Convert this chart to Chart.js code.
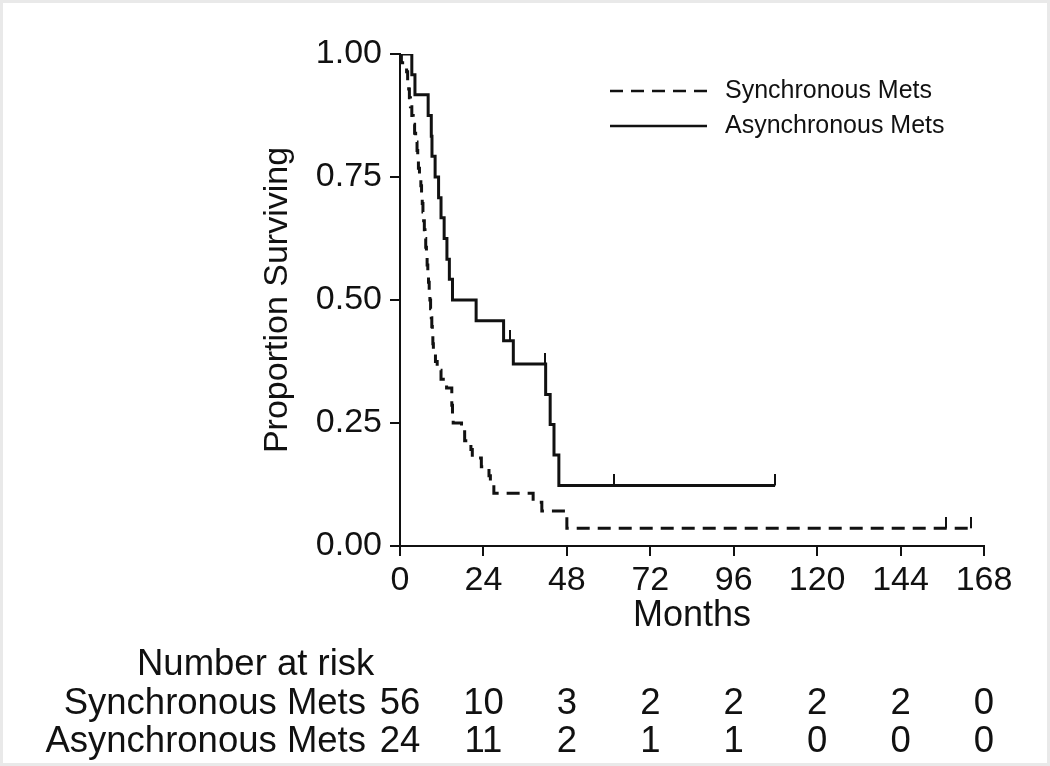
<!DOCTYPE html>
<html><head><meta charset="utf-8">
<script src="https://cdn.jsdelivr.net/npm/chart.js@4.4.1/dist/chart.umd.min.js"></script>
<style>html,body{margin:0;padding:0;background:#fff;overflow:hidden}#wrap{width:1050px;height:766px;position:relative}</style>
</head><body><div id="wrap"><canvas id="c" width="1050" height="766"></canvas></div>
<script>
// Kaplan-Meier step data (time in months, proportion surviving after the drop)
const seriesNames = ['Synchronous Mets', 'Asynchronous Mets'];
const syncTimes = [0, 0.4, 1.9, 2.2, 2.5, 2.7, 3.0, 3.4, 3.8, 4.2, 4.5, 4.9, 5.1, 5.3, 5.6, 6.0, 6.2, 6.4, 6.6, 6.8, 7.0, 7.2, 7.4, 7.6, 7.8, 8.0, 8.2, 8.4, 8.6, 8.8, 9.0, 9.15, 9.3, 9.45, 9.6, 10.2, 10.7, 11.8, 13.4, 14.9, 15.1, 15.3, 17.7, 18.6, 20.4, 20.8, 23.4, 25.6, 26.0, 27.0, 38.3, 40.8, 48.0, 164.3];
const syncSurv = [1, 0.982, 0.964, 0.946, 0.929, 0.911, 0.893, 0.875, 0.857, 0.839, 0.821, 0.804, 0.786, 0.768, 0.75, 0.732, 0.714, 0.696, 0.679, 0.661, 0.643, 0.625, 0.607, 0.589, 0.571, 0.554, 0.536, 0.518, 0.5, 0.482, 0.464, 0.446, 0.429, 0.411, 0.393, 0.375, 0.357, 0.339, 0.321, 0.286, 0.268, 0.25, 0.232, 0.214, 0.196, 0.179, 0.161, 0.143, 0.125, 0.107, 0.089, 0.071, 0.036, 0.036];
const asyncTimes = [0, 3.4, 4.3, 8.1, 9.0, 9.2, 10.1, 11.1, 11.8, 12.7, 13.5, 14.2, 15.1, 21.9, 29.8, 32.6, 41.9, 43.2, 44.3, 45.7, 107.9];
const asyncSurv = [1, 0.958, 0.917, 0.875, 0.833, 0.792, 0.75, 0.708, 0.667, 0.625, 0.583, 0.542, 0.5, 0.458, 0.417, 0.370, 0.308, 0.247, 0.185, 0.123, 0.123];
// censoring marks
const syncCensorTimes = [157.0, 164.3];
const syncCensorSurv = [0.036, 0.036];
const asyncCensorTimes = [31.6, 41.6, 61.6, 107.9];
const asyncCensorSurv = [0.417, 0.370, 0.123, 0.123];
// axes
const xTicks = [0, 24, 48, 72, 96, 120, 144, 168];
const yTicks = [0, 0.25, 0.5, 0.75, 1];
// number at risk
const riskTitle = 'Number at risk';
const riskSync = [56, 10, 3, 2, 2, 2, 2, 0];
const riskAsync = [24, 11, 2, 1, 1, 0, 0, 0];

const INK = '#111';
const FONT = '"Liberation Sans", Arial, Helvetica, sans-serif';

function pts(ts, ss) { return ts.map((t, i) => ({x: t, y: ss[i]})); }

// censor mark: short vertical stroke above the point
const censorMark = document.createElement('canvas');
censorMark.width = 2; censorMark.height = 22;
(function(){ const g = censorMark.getContext('2d'); g.fillStyle = INK; g.fillRect(0, 0, 2, 11); })();

const overlay = {
  id: 'overlay',
  beforeDraw(chart) {
    const ctx = chart.ctx;
    ctx.save();
    ctx.fillStyle = '#fff';
    ctx.fillRect(0, 0, chart.width, chart.height);
    ctx.strokeStyle = '#e9e9e9';
    ctx.lineWidth = 4;
    ctx.strokeRect(1, 1, chart.width - 2, chart.height - 2);
    ctx.restore();
  },
  afterDraw(chart) {
    const ctx = chart.ctx;
    const xs = chart.scales.x;
    ctx.save();
    // legend
    ctx.font = '25px ' + FONT;
    ctx.fillStyle = INK;
    ctx.textBaseline = 'middle';
    ctx.textAlign = 'left';
    const legY = [91, 126];
    [0, 1].forEach(i => {
      const ds = chart.data.datasets[i];
      ctx.strokeStyle = INK;
      ctx.lineWidth = 2.5;
      ctx.setLineDash(ds.borderDash || []);
      ctx.beginPath();
      ctx.moveTo(610, legY[i]);
      ctx.lineTo(707, legY[i]);
      ctx.stroke();
      ctx.setLineDash([]);
      ctx.fillText(ds.label, 725, legY[i]);
    });
    // number-at-risk table
    ctx.font = '36.5px ' + FONT;
    ctx.textAlign = 'left';
    ctx.fillText(riskTitle, 137, 665);
    const rows = [[seriesNames[0], riskSync, 704], [seriesNames[1], riskAsync, 742]];
    rows.forEach(([name, vals, y]) => {
      ctx.textAlign = 'right';
      ctx.fillText(name, 366, y);
      ctx.textAlign = 'center';
      vals.forEach((v, i) => ctx.fillText(String(v), xs.getPixelForValue(xTicks[i]), y));
    });
    ctx.restore();
  }
};

new Chart(document.getElementById('c'), {
  type: 'line',
  data: {
    datasets: [
      {label: seriesNames[0], data: pts(syncTimes, syncSurv), stepped: 'before', borderColor: INK, borderWidth: 3, borderDash: [13, 8], pointRadius: 0, fill: false},
      {label: seriesNames[1], data: pts(asyncTimes, asyncSurv), stepped: 'before', borderColor: INK, borderWidth: 3, pointRadius: 0, fill: false},
      {label: 'censor1', data: pts(syncCensorTimes, syncCensorSurv), showLine: false, pointStyle: censorMark, pointRadius: 6},
      {label: 'censor2', data: pts(asyncCensorTimes, asyncCensorSurv), showLine: false, pointStyle: censorMark, pointRadius: 6}
    ]
  },
  options: {
    responsive: false,
    animation: false,
    devicePixelRatio: 1,
    layout: {padding: {left: 240, right: 66, top: 54, bottom: 120}},
    plugins: {legend: {display: false}, tooltip: {enabled: false}},
    scales: {
      x: {
        type: 'linear', min: 0, max: 168,
        afterBuildTicks: s => { s.ticks = xTicks.map(v => ({value: v})); },
        afterFit: s => { s.height = 100; s.paddingLeft = 0; s.paddingRight = 0; },
        grid: {drawOnChartArea: false, drawTicks: true, tickLength: 10, color: INK, lineWidth: 2},
        border: {display: true, color: INK, width: 2},
        ticks: {color: INK, font: {family: FONT, size: 34}, padding: 4, maxRotation: 0, autoSkip: false},
        title: {display: true, text: 'Months', color: INK, font: {family: FONT, size: 36}, padding: {top: 0, bottom: 8}}
      },
      y: {
        type: 'linear', min: 0, max: 1,
        afterBuildTicks: s => { s.ticks = yTicks.map(v => ({value: v})); },
        afterFit: s => { s.width = 160; s.paddingTop = 0; s.paddingBottom = 0; },
        grid: {drawOnChartArea: false, drawTicks: true, tickLength: 10, color: INK, lineWidth: 2},
        border: {display: true, color: INK, width: 2},
        ticks: {color: INK, font: {family: FONT, size: 34}, padding: 8, callback: v => Number(v).toFixed(2)},
        title: {display: true, text: 'Proportion Surviving', color: INK, font: {family: FONT, size: 34}, padding: {top: 17, bottom: 0}}
      }
    }
  },
  plugins: [overlay]
});
</script></body></html>
